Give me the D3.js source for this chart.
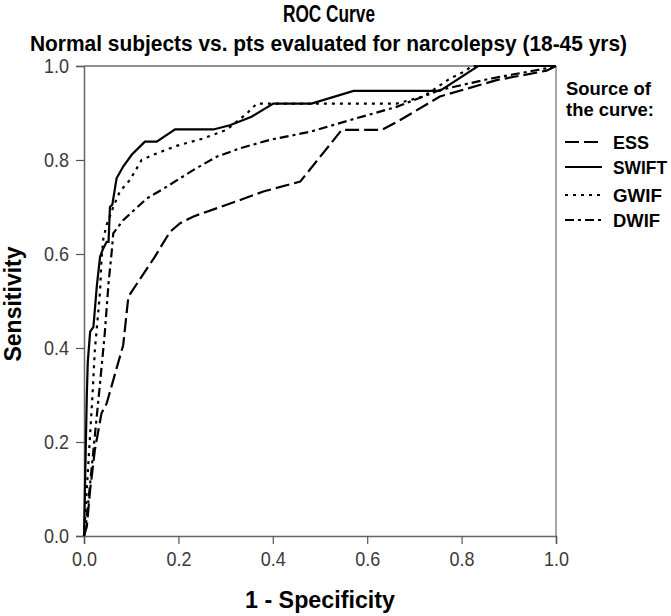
<!DOCTYPE html>
<html>
<head>
<meta charset="utf-8">
<script src="https://cdn.jsdelivr.net/npm/d3@7"></script>
<style>
  html, body { margin: 0; padding: 0; background: #fff; }
  svg { display: block; }
  .narrow { font-family: "Liberation Sans Narrow", "Arial Narrow", "Liberation Sans", Arial, sans-serif; }
</style>
</head>
<body>
<div id="chart"></div>
<script>
const title = "ROC Curve";
const subtitle = "Normal subjects vs. pts evaluated for narcolepsy (18-45 yrs)";
const xLabel = "1 - Specificity";
const yLabel = "Sensitivity";
const legendTitle = ["Source of", "the curve:"];
const seriesNames = ["ESS", "SWIFT", "GWIF", "DWIF"];
const xTicks = [0.0, 0.2, 0.4, 0.6, 0.8, 1.0];
const yTicks = [0.0, 0.2, 0.4, 0.6, 0.8, 1.0];

// [1 - specificity, sensitivity]
const ess = [[0,0],[0.006,0.02],[0.013,0.098],[0.023,0.183],[0.037,0.261],[0.048,0.282],[0.083,0.406],[0.094,0.509],[0.101,0.52],[0.15,0.594],[0.182,0.647],[0.203,0.665],[0.232,0.68],[0.331,0.715],[0.38,0.733],[0.458,0.754],[0.546,0.864],[0.631,0.864],[0.67,0.885],[0.754,0.935],[0.874,0.97],[0.98,0.99],[1,1]];
const swift = [[0,0],[0.002,0.1],[0.004,0.2],[0.006,0.30],[0.008,0.37],[0.013,0.435],[0.02,0.445],[0.027,0.53],[0.034,0.594],[0.04,0.61],[0.048,0.626],[0.052,0.626],[0.055,0.70],[0.06,0.705],[0.069,0.761],[0.083,0.786],[0.101,0.811],[0.129,0.839],[0.154,0.839],[0.193,0.865],[0.274,0.865],[0.309,0.874],[0.355,0.892],[0.401,0.92],[0.482,0.92],[0.571,0.947],[0.754,0.947],[0.835,1.0],[1,1]];
const gwif = [[0,0],[0.006,0.1],[0.012,0.2],[0.018,0.30],[0.023,0.396],[0.027,0.44],[0.034,0.52],[0.037,0.587],[0.041,0.633],[0.048,0.662],[0.062,0.70],[0.076,0.733],[0.097,0.757],[0.122,0.80],[0.154,0.814],[0.196,0.83],[0.253,0.846],[0.302,0.864],[0.345,0.899],[0.366,0.92],[0.662,0.92],[0.719,0.935],[0.775,0.973],[0.81,0.99],[0.82,1],[1,1]];
const dwif = [[0,0],[0.006,0.041],[0.013,0.112],[0.02,0.183],[0.027,0.254],[0.034,0.325],[0.044,0.431],[0.052,0.538],[0.059,0.608],[0.062,0.644],[0.083,0.672],[0.133,0.718],[0.175,0.743],[0.232,0.779],[0.281,0.807],[0.331,0.825],[0.394,0.843],[0.479,0.86],[0.564,0.885],[0.662,0.913],[0.754,0.949],[0.86,0.973],[0.98,0.995],[1,1]];

const seriesData = [ess, swift, gwif, dwif];
const dashes = ["14,5", null, "3,5", "9,4,3,4"];

const W = 671, H = 616;
const margin = {left: 84, right: 115, top: 66, bottom: 80};

const svg = d3.select("#chart").append("svg").attr("width", W).attr("height", H);

const x = d3.scaleLinear().domain([0, 1]).range([margin.left, W - margin.right]);
const y = d3.scaleLinear().domain([0, 1]).range([H - margin.bottom, margin.top]);

// frame top / right
svg.append("line").attr("x1", x(0)).attr("x2", x(1)).attr("y1", y(1)).attr("y2", y(1))
  .attr("stroke", "#222").attr("stroke-width", 1.2);
svg.append("line").attr("x1", x(1)).attr("x2", x(1)).attr("y1", y(1)).attr("y2", y(0))
  .attr("stroke", "#888").attr("stroke-width", 1.5);

// axes
const xAxis = svg.append("g").attr("transform", `translate(0,${y(0)})`)
  .call(d3.axisBottom(x).tickValues(xTicks).tickFormat(d3.format(".1f")).tickSizeOuter(0).tickSize(8).tickPadding(7));
const yAxis = svg.append("g").attr("transform", `translate(${x(0)},0)`)
  .call(d3.axisLeft(y).tickValues(yTicks).tickFormat(d3.format(".1f")).tickSizeOuter(0).tickSize(8).tickPadding(7));
[xAxis, yAxis].forEach(g => {
  g.select(".domain").attr("stroke", "#666").attr("stroke-width", 1.5);
  g.selectAll(".tick line").attr("stroke", "#555").attr("stroke-width", 1.2);
  g.selectAll(".tick text").attr("class", "narrow").attr("font-size", 21).attr("fill", "#3a3a3a")
    .attr("textLength", 25).attr("lengthAdjust", "spacingAndGlyphs");
});

// curves
const line = d3.line().x(d => x(d[0])).y(d => y(d[1]));
svg.append("g").selectAll("path").data(seriesData).join("path")
  .attr("d", line)
  .attr("fill", "none")
  .attr("stroke", "#000")
  .attr("stroke-width", 2.2)
  .attr("stroke-dasharray", (d, i) => dashes[i]);

// titles
function boldText(xp, yp, size, len, txt) {
  return svg.append("text").attr("class", "narrow").attr("x", xp).attr("y", yp)
    .attr("text-anchor", "middle").attr("font-weight", "bold").attr("font-size", size)
    .attr("textLength", len).attr("lengthAdjust", "spacingAndGlyphs").text(txt);
}
boldText(329, 22, 23, 92, title);
boldText(328.5, 51, 22, 597, subtitle);
boldText((x(0) + x(1)) / 2, 608, 24, 150, xLabel);
svg.append("text").attr("class", "narrow")
  .attr("transform", `translate(21,${(y(0) + y(1)) / 2 + 3}) rotate(-90)`)
  .attr("text-anchor", "middle").attr("font-weight", "bold").attr("font-size", 24)
  .attr("textLength", 115).attr("lengthAdjust", "spacingAndGlyphs").text(yLabel);

// legend
const lg = svg.append("g");
const ltLen = [85, 88];
lg.selectAll("text.lt").data(legendTitle).join("text").attr("class", "narrow lt")
  .attr("x", 566).attr("y", (d, i) => 95 + i * 21)
  .attr("font-weight", "bold").attr("font-size", 19)
  .attr("textLength", (d, i) => ltLen[i]).attr("lengthAdjust", "spacingAndGlyphs").text(d => d);
const legY = [142, 167, 195, 220];
const legLen = [36, 54, 49, 47];
const items = lg.selectAll("g.item").data(seriesNames).join("g").attr("class", "item");
items.append("line").attr("x1", 565).attr("x2", 602)
  .attr("y1", (d, i) => legY[i]).attr("y2", (d, i) => legY[i])
  .attr("stroke", "#000").attr("stroke-width", 2.2)
  .attr("stroke-dasharray", (d, i) => dashes[i]);
items.append("text").attr("class", "narrow").attr("x", 613).attr("y", (d, i) => legY[i] + 7)
  .attr("font-weight", "bold").attr("font-size", 19)
  .attr("textLength", (d, i) => legLen[i]).attr("lengthAdjust", "spacingAndGlyphs").text(d => d);
</script>
</body>
</html>
